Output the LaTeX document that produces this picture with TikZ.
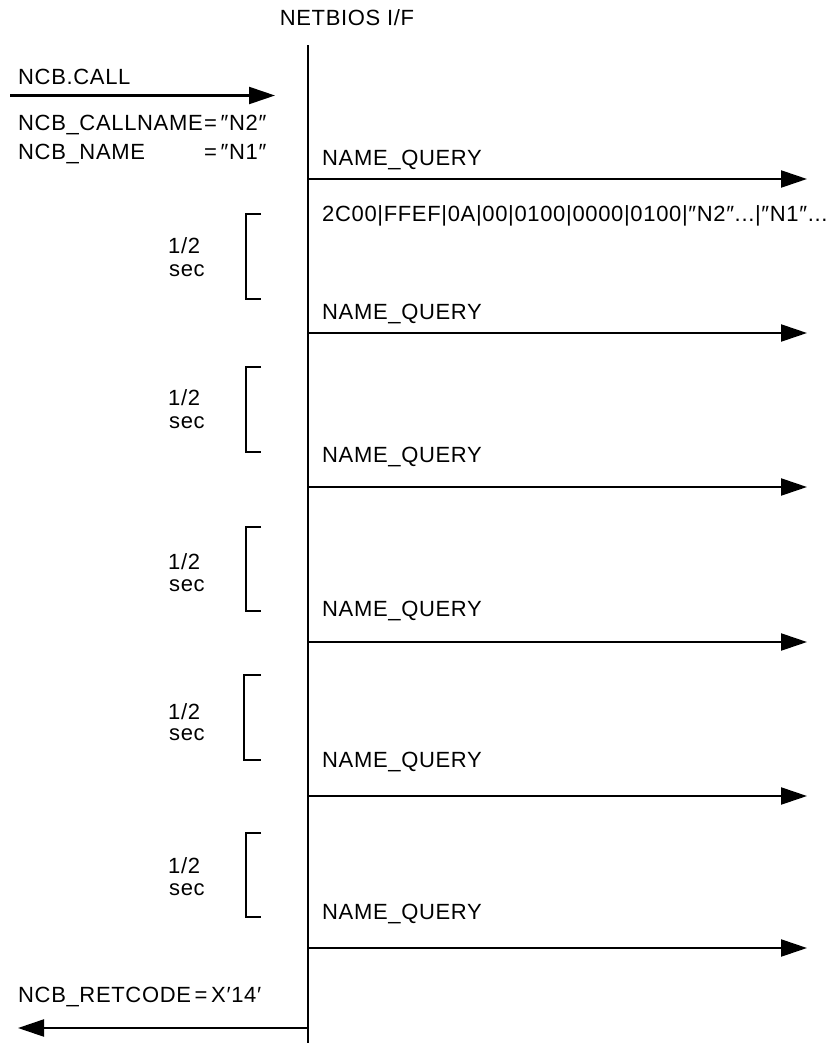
\documentclass[tikz,border=0pt]{standalone}
\usepackage{fontspec}
\setmainfont{Liberation Sans}[LetterSpace=3]
\usetikzlibrary{arrows.meta}
\begin{document}
\begin{tikzpicture}[x=1pt,y=-1pt,
  lbl/.style={anchor=base west,inner sep=0pt,font=\fontsize{22}{29}\selectfont},
  msg/.style={line width=2.2pt,-{Triangle[length=26pt,width=17pt]}},
  life/.style={line width=2.2pt},
  brk/.style={line width=2pt}]
\useasboundingbox (0,0) rectangle (837,1044);
% lifeline
\coordinate (ltop) at (308,45);
\coordinate (lbot) at (308,1043);
\draw[life] (ltop) -- (lbot);
\node[lbl,anchor=base] (title) at (347,25) {NETBIOS I/F};
% call
\node[lbl] (call) at (18,84) {NCB.CALL};
\coordinate (cs) at (10,95.5);
\coordinate (ce) at (275,95.5);
\draw[msg] (cs) -- (ce);
\node[lbl] (cn) at (18,130) {NCB\_CALLNAME};
\node[lbl] (cnv) at (204,130) {=\,″N2″};
\node[lbl] (nm) at (18,159) {NCB\_NAME};
\node[lbl] (nmv) at (204,159) {=\,″N1″};
% queries
\foreach \i/\ty/\ay in {1/165/179,2/319/333,3/462/487,4/616/642,5/767/796,6/919/948}{
  \node[lbl] (q\i) at (322,\ty) {NAME\_QUERY};
  \coordinate (qs\i) at (308,\ay);
  \coordinate (qe\i) at (807,\ay);
  \draw[msg] (qs\i) -- (qe\i);
}
\node[lbl] (hex) at (322,221) {2C00|FFEF|0A|00|0100|0000|0100|″N2″...|″N1″...};
% brackets
\foreach \i/\bx/\bt/\bb/\ha/\sa in {1/246/214/299/253/276,2/246/367/452/405/428.5,3/246/527/611/569/591.5,4/244/675/760/719/740.5,5/246/833/917/873/895.5}{
  \coordinate (bt\i) at (261,\bt);
  \coordinate (bb\i) at (261,\bb);
  \draw[brk] (bt\i) -- (\bx,\bt) -- (\bx,\bb) -- (bb\i);
  \node[lbl] (h\i) at (168,\ha) {1/2};
  \node[lbl] (s\i) at (169,\sa) {sec};
}
% return
\node[lbl] (ret) at (18,1002) {NCB\_RETCODE\,=\,X′14′};
\coordinate (rs) at (308,1028);
\coordinate (re) at (18,1028);
\draw[msg] (rs) -- (re);
\end{tikzpicture}
\end{document}
